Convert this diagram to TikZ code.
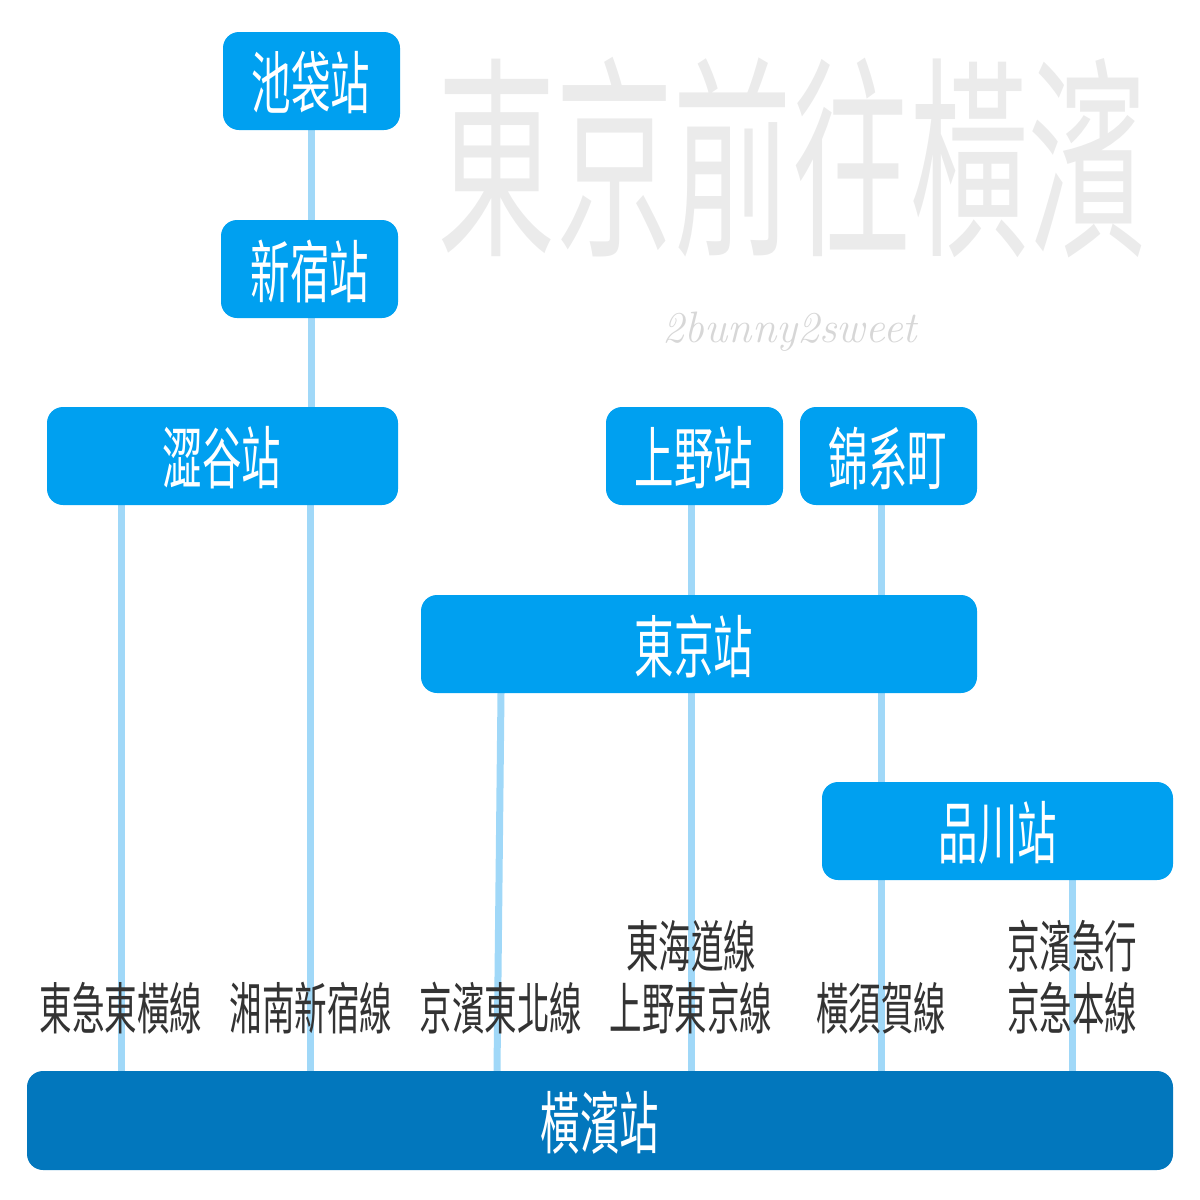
\documentclass[tikz,border=0pt]{standalone}
\usepackage{fontspec}
\newfontfamily\cjk{Noto Sans CJK TC}
\newfontfamily\cjkb{Noto Sans CJK TC}[FakeBold=1.5]
\begin{document}
\begin{tikzpicture}[x=1pt,y=-1pt,
  stn/.style={fill={rgb,255:red,0;green,160;blue,240},rounded corners=16pt,inner sep=0pt},
  lk/.style={draw={rgb,255:red,160;green,216;blue,248},line width=7pt},
  st/.style={text=white,font=\cjk\fontsize{68}{68}\selectfont,xscale=0.58},
  lb/.style={text={rgb,255:red,51;green,51;blue,51},font=\cjk\fontsize{56}{62}\selectfont,xscale=0.58,align=center}]
\useasboundingbox (0,0) rectangle (1200,1200);
\node[text={rgb,255:red,235;green,235;blue,235},font=\cjk\fontsize{215}{215}\selectfont,xscale=0.55] (wm) at (792,158) {東京前往橫濱};
\node[text={rgb,255:red,215;green,215;blue,215},font=\itshape\fontsize{44}{44}\selectfont] (sig) at (790,332) {2bunny2sweet};
% links
\coordinate (c1) at (311,130); \coordinate (c2) at (311,220);
\draw[lk] (311,130) -- (311,220);
\draw[lk] (311,318) -- (311,407);
\draw[lk] (310,505) -- (310,1071);
\draw[lk] (121,505) -- (121,1071);
\draw[lk] (691,505) -- (691,595);
\draw[lk] (691,693) -- (691,1071);
\draw[lk] (881,505) -- (881,595);
\draw[lk] (881,693) -- (881,782);
\draw[lk] (881,880) -- (881,1071);
\draw[lk] (501,693) -- (497,1071);
\draw[lk] (1072,880) -- (1072,1071);
% stations
\fill[stn] (223,32) rectangle (400,130);
\fill[stn] (221,220) rectangle (398,318);
\fill[stn] (47,407) rectangle (398,505);
\fill[stn] (606,407) rectangle (783,505);
\fill[stn] (800,407) rectangle (977,505);
\fill[stn] (421,595) rectangle (977,693);
\fill[stn] (822,782) rectangle (1173,880);
\fill[rounded corners=16pt,fill={rgb,255:red,2;green,119;blue,189}] (27,1071) rectangle (1173,1170);
\node[st] (ikb) at (311,83) {池袋站};
\node[st] (sjk) at (310,271) {新宿站};
\node[st] (sby) at (222,458) {澀谷站};
\node[st] (uen) at (694,458) {上野站};
\node[st] (kin) at (888,458) {錦系町};
\node[st] (tky) at (694,646) {東京站};
\node[st] (shn) at (998,833) {品川站};
\node[st] (ykh) at (600,1123) {橫濱站};
% labels
\node[lb] (l1) at (121,1008) {東急東橫線};
\node[lb] (l2) at (311,1008) {湘南新宿線};
\node[lb] (l3) at (501,1008) {京濱東北線};
\node[lb] (l4) at (691,977) {東海道線\\上野東京線};
\node[lb] (l5) at (881,1008) {橫須賀線};
\node[lb] (l6) at (1072,977) {京濱急行\\京急本線};
\end{tikzpicture}
\end{document}
